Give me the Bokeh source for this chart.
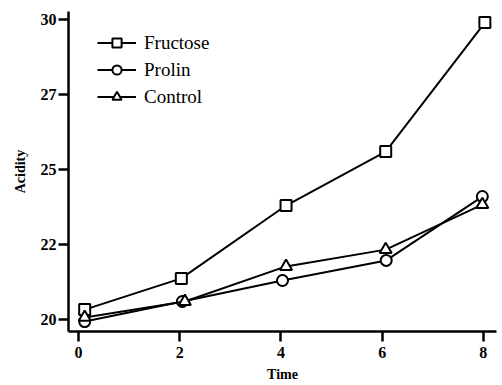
from bokeh.plotting import figure
from bokeh.models import Range1d, FixedTicker, Legend, LegendItem
from bokeh.embed import file_html
from bokeh.resources import INLINE

time = [0.12, 2.03, 4.1, 6.07, 8.03]
time_p = [0.12, 2.05, 4.03, 6.08, 7.98]
time_c = [0.12, 2.1, 4.1, 6.07, 7.98]
fructose = [20.33, 21.37, 23.8, 25.6, 29.9]
prolin = [19.93, 20.6, 21.3, 21.97, 24.1]
control = [20.07, 20.6, 21.77, 22.33, 23.83]
x_ticks = [0, 2, 4, 6, 8]
y_ticks = [20, 22.5, 25, 27.5, 30]
y_labels = ["20", "22", "25", "27", "30"]

FONT = "Liberation Serif"

p = figure(width=499, height=384, output_backend="svg", toolbar_location=None,
           x_range=Range1d(-0.2, 8.26), y_range=Range1d(19.6, 30.27),
           min_border_left=68, min_border_right=3, min_border_top=11, min_border_bottom=46)
p.outline_line_color = None
p.xgrid.visible = False
p.ygrid.visible = False
p.background_fill_color = "white"

items = []
for xs, ys, name, mk, sz in [(time, fructose, "Fructose", "square", 11),
                             (time_p, prolin, "Prolin", "circle", 11),
                             (time_c, control, "Control", "triangle", 12)]:
    ln = p.line(xs, ys, line_color="black", line_width=2)
    sc = p.scatter(xs, ys, marker=mk, size=sz, fill_color="white",
                   line_color="black", line_width=2)
    items.append(LegendItem(label=name, renderers=[ln, sc]))

legend = Legend(items=items)
legend.label_text_font = FONT
legend.label_text_font_style = "normal"
legend.label_text_font_size = "19px"
legend.label_text_color = "black"
legend.border_line_color = None
legend.background_fill_alpha = 0
legend.glyph_width = 39
legend.glyph_height = 23
legend.spacing = 4
legend.label_standoff = 8
legend.margin = 0
legend.padding = 0
legend.label_height = 23
legend.location = (29, 223)
p.add_layout(legend)

for ax in (p.xaxis[0], p.yaxis[0]):
    ax.axis_line_width = 2.5
    ax.axis_line_color = "black"
    ax.major_tick_line_width = 2.5
    ax.major_tick_line_color = "black"
    ax.major_tick_out = 10
    ax.major_tick_in = 0
    ax.minor_tick_line_color = None
    ax.major_label_text_font = FONT
    ax.major_label_text_font_style = "bold"
    ax.major_label_text_font_size = "16px"
    ax.major_label_text_color = "black"
    ax.axis_label_text_font = FONT
    ax.axis_label_text_font_style = "bold"
    ax.axis_label_text_font_size = "14px"
    ax.axis_label_text_color = "black"

p.xaxis.ticker = FixedTicker(ticks=x_ticks)
p.yaxis.ticker = FixedTicker(ticks=y_ticks)
p.yaxis.major_label_overrides = {t: l for t, l in zip(y_ticks, y_labels)}
p.xaxis.axis_label = "Time"
p.yaxis.axis_label = "Acidity"
p.xaxis.major_label_standoff = 5
p.yaxis.major_label_standoff = 2
p.xaxis.axis_label_standoff = 6
p.yaxis.axis_label_standoff = 10

open("out.html", "w").write(file_html(p, INLINE))
